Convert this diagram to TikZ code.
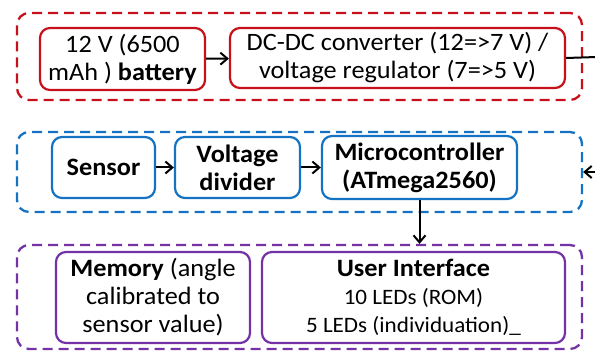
\documentclass[tikz,border=0pt]{standalone}
\usepackage{fontspec}
\setmainfont{Carlito}[FakeStretch=1.05]
\usetikzlibrary{arrows.meta}
\definecolor{cred}{RGB}{200,16,26}
\definecolor{cblue}{RGB}{20,115,195}
\definecolor{cpurple}{RGB}{115,50,165}
\tikzset{
  grp/.style={draw=#1, line width=2.3pt, dash pattern=on 10pt off 6pt, rounded corners=12pt, minimum width=565pt, inner sep=0pt},
  blk/.style={draw=#1, line width=2.2pt, rounded corners=10pt, align=center, inner sep=0pt, text=black, font=\fontsize{25}{28}\selectfont},
  bblk/.style={blk=#1, font=\fontsize{25}{28}\selectfont\bfseries},
  conn/.style={line width=2pt, -{Straight Barb[length=7pt,width=12pt,line width=2pt]}},
  plain/.style={line width=2pt},
}
\begin{document}
\begin{tikzpicture}[x=1pt,y=-1pt]
\useasboundingbox (0,0) rectangle (595,352);
% groups
\node[grp=cred, minimum height=87pt] (gred) at (299.5,56.5) {};
\node[grp=cblue, minimum height=80pt] (gblue) at (299.5,172) {};
\node[grp=cpurple, minimum height=104pt] (gpurple) at (299.5,297) {};
% red blocks
\node[blk=cred, minimum width=165pt, minimum height=62pt] (bat) at (122.5,59) {12 V (6500\\mAh ) \textbf{battery}};
\node[blk=cred, minimum width=335pt, minimum height=60pt] (dc) at (397.5,58) {DC-DC converter (12=>7 V) /\\voltage regulator (7=>5 V)};
% blue blocks
\node[bblk=cblue, minimum width=103pt, minimum height=61pt] (sen) at (103.5,167.5) {Sensor};
\node[bblk=cblue, minimum width=125pt, minimum height=61pt] (vd) at (237.5,167.5) {Voltage\\divider};
\node[bblk=cblue, minimum width=195pt, minimum height=63pt] (mc) at (419.5,167.5) {Microcontroller\\(ATmega2560)};
% purple blocks
\node[blk=cpurple, minimum width=194pt, minimum height=91pt] (mem) at (153,297.5) {\textbf{Memory} (angle\\calibrated to\\sensor value)};
\node[blk=cpurple, minimum width=303pt, minimum height=91pt] (ui) at (413.5,297.5) {\textbf{User Interface}\\{\fontsize{22}{27}\selectfont 10 LEDs (ROM)}\\{\fontsize{22}{27}\selectfont 5 LEDs (individuation)\_}};
% connectors
\coordinate (outR) at (597,57);
\coordinate (inR) at (598,172);
\draw[conn] (bat) -- (dc);
\draw[plain] (dc.east) -- (outR);
\draw[conn] (sen) -- (vd);
\draw[conn] (vd) -- (mc);
\draw[conn] (inR) -- (gblue.east);
\draw[conn] (mc.south) -- (mc.south |- gpurple.north);
\end{tikzpicture}
\end{document}
